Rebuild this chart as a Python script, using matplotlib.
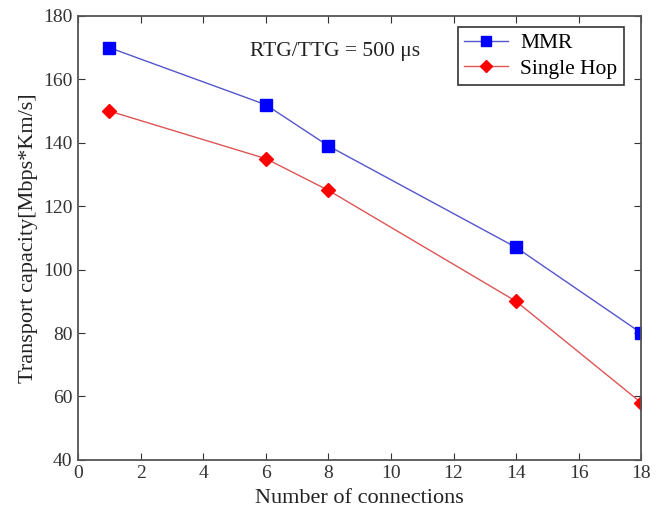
import numpy as np
import matplotlib.pyplot as plt

plt.rcParams['font.family'] = ['Liberation Serif', 'DejaVu Serif']

connections = [1, 6, 8, 14, 18]
mmr = [170, 152, 139, 107, 80]
single_hop = [150, 135, 125, 90, 58]

fig = plt.figure(figsize=(6.68, 5.15), dpi=100)
ax = fig.add_axes([0.117, 0.107, 0.843, 0.862])

ax.plot(connections, mmr, '-', color='#5555cc', lw=1.0, marker='s', ms=8,
        mfc='#0000ff', mec='#0000ff', label='MMR')
ax.plot(connections, single_hop, '-', color='#dd5555', lw=1.0, marker='D', ms=7,
        mfc='#ff0000', mec='#ff0000', label='Single Hop')

ax.set_xlim(0, 18)
ax.set_ylim(40, 180)
ax.set_xticks(np.arange(0, 19, 2))
ax.set_yticks(np.arange(40, 181, 20))
ax.tick_params(direction='in', top=True, right=True, labelsize=14, colors='#333333',
               length=5, pad=4)
for s in ax.spines.values():
    s.set_color('#555555')
    s.set_linewidth(1.3)

ax.set_xlabel('Number of connections', fontsize=16, color='#222222', labelpad=5)
ax.set_ylabel('Transport capacity[Mbps*Km/s]', fontsize=16, color='#222222', labelpad=4)

ax.text(0.305, 0.91, 'RTG/TTG = 500 μs', transform=ax.transAxes, fontsize=15.5,
        color='#222222')

leg = ax.legend(loc='upper right', bbox_to_anchor=(0.977, 0.985), fontsize=15.5,
                fancybox=False, framealpha=1, edgecolor='#333333',
                handlelength=2.0, markerscale=0.9, borderpad=0.3,
                labelspacing=0.25, handletextpad=0.6, borderaxespad=0.2)
leg.get_frame().set_linewidth(1.2)

fig.savefig('out.png', dpi=100)
